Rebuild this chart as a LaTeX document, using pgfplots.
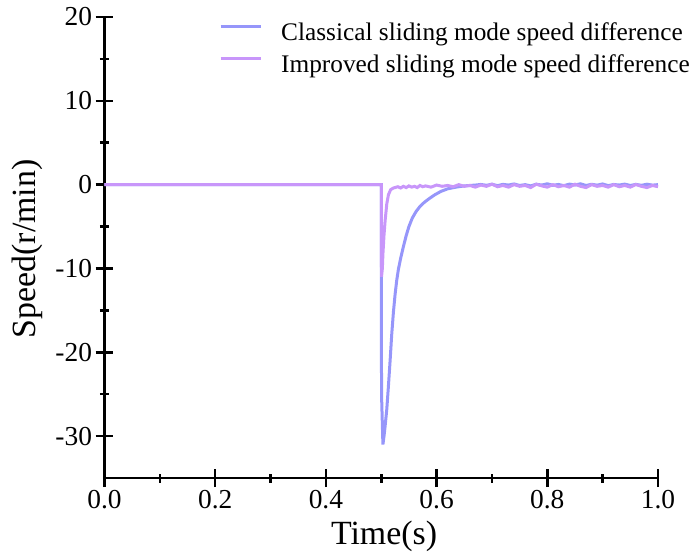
\documentclass[border=0pt]{standalone}
\usepackage{fontspec}
\setmainfont{Liberation Serif}
\usepackage{pgfplots}
\pgfplotsset{compat=1.18}
\usetikzlibrary{calc}
\definecolor{cls}{RGB}{150,150,250}
\definecolor{imp}{RGB}{200,150,250}
\begin{document}
\begin{tikzpicture}
\begin{axis}[
  scale only axis, width=553.5bp, height=461bp,
  xmin=0, xmax=1, ymin=-35, ymax=20,
  axis x line*=bottom, axis y line*=left,
  axis line style={line width=2.5bp, black},
  xtick={0,0.2,0.4,0.6,0.8,1.0},
  xticklabels={\textrm{0.0},\textrm{0.2},\textrm{0.4},\textrm{0.6},\textrm{0.8},\textrm{1.0}},
  ytick={-30,-20,-10,0,10,20},
  yticklabels={\textrm{-30},\textrm{-20},\textrm{-10},\textrm{0},\textrm{10},\textrm{20}},
  minor x tick num=1, minor y tick num=1,
  tick align=center,
  major tick length=18bp, minor tick length=9bp,
  every tick/.style={line width=2.5bp, black},
  /pgf/number format/assume math mode=true,
  tick label style={font=\rmfamily\fontsize{27.5}{27.5}\selectfont},
  xlabel={Time(s)}, ylabel={Speed(r/min)},
  label style={font=\rmfamily\fontsize{34}{34}\selectfont},
  xlabel style={at={(rel axis cs:0.505,-0.1453)}, anchor=base},
  ylabel style={at={(rel axis cs:-0.1238,0.497)}, anchor=base},
  legend style={at={(rel axis cs:0.2069,0.989)}, anchor=north west, draw=none, fill=none,
    inner sep=0pt, font=\rmfamily\fontsize{25.4}{25.4}\selectfont, column sep=19bp, row sep=8bp,
    nodes={inner sep=0pt, text height=18bp, text depth=6bp}},
  legend cell align=left,
  legend image code/.code={\draw[#1, line width=3bp] (0bp,8bp) -- (40bp,8bp);},
]
\addplot[cls, line width=3bp] coordinates {
(0,0) (0.5,0) (0.5005,-25) (0.503,-31) (0.505,-30) (0.507,-28.8) (0.510,-26.8)
(0.513,-24) (0.516,-21) (0.519,-17.8) (0.522,-15.2) (0.525,-13.1) (0.528,-11.4)
(0.531,-10.1) (0.535,-8.8) (0.540,-7.4) (0.545,-6.1) (0.550,-5.0) (0.556,-4.0)
(0.563,-3.2) (0.570,-2.6) (0.578,-2.1) (0.587,-1.65) (0.597,-1.2) (0.608,-0.8)
(0.62,-0.5) (0.635,-0.3) (0.65,-0.15) (0.66,-0.1) (0.67,-0.05) (0.68,0.02)
(0.69,-0.08) (0.70,0.05) (0.71,-0.12) (0.72,0.03) (0.73,-0.05) (0.74,0.08)
(0.75,-0.1) (0.76,0.0) (0.77,-0.15) (0.78,0.05) (0.79,-0.05) (0.80,0.1)
(0.81,-0.08) (0.82,0.02) (0.83,-0.12) (0.84,0.06) (0.85,-0.05) (0.86,0.1)
(0.87,-0.1) (0.88,0.04) (0.89,-0.06) (0.90,0.08) (0.91,-0.12) (0.92,0.02)
(0.93,-0.05) (0.94,0.06) (0.95,-0.1) (0.96,0.03) (0.97,-0.08) (0.98,0.05)
(0.99,-0.06) (1.0,0.0)
};
\addlegendentry{Classical sliding mode speed difference}
\addplot[imp, line width=3bp] coordinates {
(0,0) (0.5,0) (0.5005,-11) (0.502,-10) (0.503,-8.3) (0.505,-6) (0.507,-4.3)
(0.510,-2.3) (0.513,-1.2) (0.517,-0.6) (0.522,-0.4)
(0.525,-0.35) (0.53,-0.25) (0.535,-0.4) (0.54,-0.2) (0.545,-0.35) (0.55,-0.15)
(0.555,-0.3) (0.56,-0.2) (0.565,-0.35) (0.57,-0.1) (0.575,-0.25) (0.58,-0.15)
(0.59,-0.3) (0.60,-0.05) (0.61,-0.2) (0.62,-0.1) (0.63,-0.25) (0.64,0.0)
(0.65,-0.2) (0.66,-0.1) (0.67,-0.3) (0.68,-0.05) (0.69,-0.2) (0.70,0.05)
(0.71,-0.25) (0.72,-0.1) (0.73,-0.3) (0.74,0.0) (0.75,-0.2) (0.76,-0.1)
(0.77,-0.35) (0.78,0.05) (0.79,-0.15) (0.80,-0.3) (0.81,0.0) (0.82,-0.25)
(0.83,-0.1) (0.84,-0.3) (0.85,0.05) (0.86,-0.2) (0.87,-0.35) (0.88,0.0)
(0.89,-0.2) (0.90,-0.1) (0.91,-0.3) (0.92,0.0) (0.93,-0.25) (0.94,-0.1)
(0.95,-0.3) (0.96,0.02) (0.97,-0.2) (0.98,-0.35) (0.99,-0.1) (1.0,-0.25)
};
\addlegendentry{Improved sliding mode speed difference}
\coordinate (O) at (rel axis cs:0,0);
\end{axis}
\pgfresetboundingbox
\path ($(O)+(-104.5bp,-74bp)$) rectangle ($(O)+(592.5bp,478bp)$);
\end{tikzpicture}
\end{document}
